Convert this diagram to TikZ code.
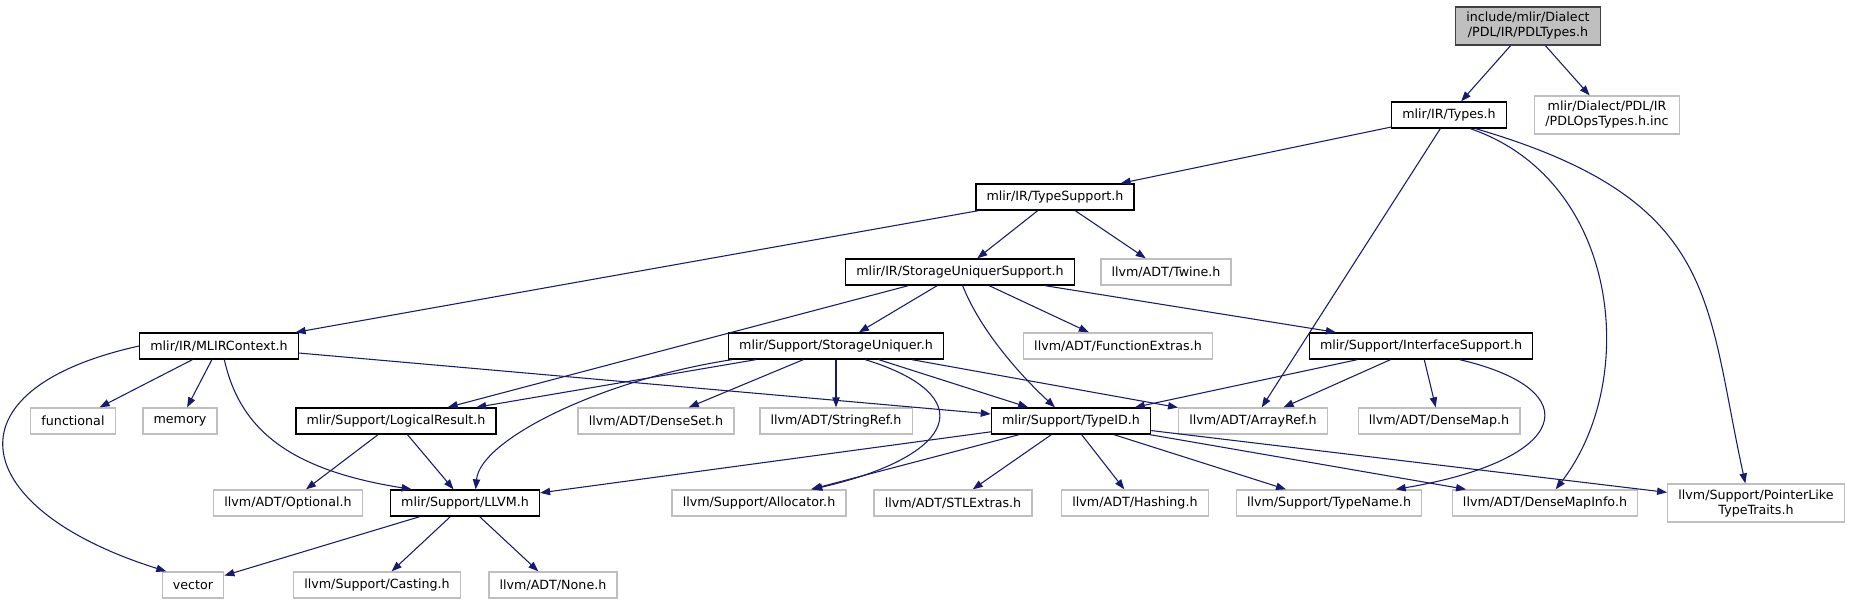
\documentclass[tikz,border=0pt]{standalone}
\usepackage{fontspec}
\setmainfont{DejaVu Sans}
\usepackage{xcolor}
\usetikzlibrary{arrows.meta}
\definecolor{edgeblue}{HTML}{191970}
\definecolor{greyline}{HTML}{BFBFBF}
\tikzstyle{file} = [rectangle, draw=black, line width=1pt, fill=white, inner xsep=8pt, inner ysep=4pt, minimum height=19.5pt, align=center, font=\fontsize{9.5}{11.25}\selectfont]
\tikzstyle{ext} = [file, draw=greyline]
\tikzstyle{root} = [file, draw=black!75, fill=greyline]
\tikzstyle{arrow} = [draw=edgeblue, line width=0.8pt, -{Triangle[length=7.5pt,width=5.5pt]}]

\begin{document}
\begin{tikzpicture}[x=0.75pt, y=-0.75pt]
    \useasboundingbox (0,0) rectangle (1852,604);
    \node (pdltypes) [root] at (1528,26) {include/mlir/Dialect\\/PDL/IR/PDLTypes.h};
    \node (types) [file] at (1449,115) {mlir/IR/Types.h};
    \node (pdlops) [ext] at (1607,115) {mlir/Dialect/PDL/IR\\/PDLOpsTypes.h.inc};
    \node (typesupport) [file] at (1055,197) {mlir/IR/TypeSupport.h};
    \node (susupport) [file] at (960,272) {mlir/IR/StorageUniquerSupport.h};
    \node (twine) [ext] at (1166,272) {llvm/ADT/Twine.h};
    \node (mlircontext) [file] at (219,346) {mlir/IR/MLIRContext.h};
    \node (uniquer) [file] at (836,346) {mlir/Support/StorageUniquer.h};
    \node (funcextras) [ext] at (1118,346) {llvm/ADT/FunctionExtras.h};
    \node (interface) [file] at (1421,346) {mlir/Support/InterfaceSupport.h};
    \node (functional) [ext] at (73,421) {functional};
    \node (memory) [ext] at (180,421) {memory};
    \node (logical) [file] at (396,421) {mlir/Support/LogicalResult.h};
    \node (denseset) [ext] at (656,421) {llvm/ADT/DenseSet.h};
    \node (stringref) [ext] at (836,421) {llvm/ADT/StringRef.h};
    \node (typeid) [file] at (1071,421) {mlir/Support/TypeID.h};
    \node (arrayref) [ext] at (1253,421) {llvm/ADT/ArrayRef.h};
    \node (densemap) [ext] at (1439,421) {llvm/ADT/DenseMap.h};
    \node (optional) [ext] at (288,503) {llvm/ADT/Optional.h};
    \node (llvm) [file] at (465,503) {mlir/Support/LLVM.h};
    \node (allocator) [ext] at (759,503) {llvm/Support/Allocator.h};
    \node (stlextras) [ext] at (953,503) {llvm/ADT/STLExtras.h};
    \node (hashing) [ext] at (1135,503) {llvm/ADT/Hashing.h};
    \node (typename) [ext] at (1329,503) {llvm/Support/TypeName.h};
    \node (densemapinfo) [ext] at (1545,503) {llvm/ADT/DenseMapInfo.h};
    \node (pointerlike) [ext] at (1756,503) {llvm/Support/PointerLike\\TypeTraits.h};
    \node (vector) [ext] at (193,585) {vector};
    \node (casting) [ext] at (377,585) {llvm/Support/Casting.h};
    \node (none) [ext] at (553,585) {llvm/ADT/None.h};
    % top
    \draw [arrow] (pdltypes) -- (pdlops);
    \draw [arrow] (pdltypes) -- (types);
    \draw [arrow] (types) -- (typesupport);
    \draw [arrow] (types) -- (arrayref);
    \draw [arrow] ([xshift=16pt]types.south) .. controls (1620,180) and (1640,380) .. ([xshift=8pt]densemapinfo.north);
    \draw [arrow] ([xshift=20pt]types.south) .. controls (1720,200) and (1705,300) .. ([xshift=-8pt]pointerlike.north);
    \draw [arrow] (typesupport) -- (mlircontext);
    \draw [arrow] (typesupport) -- (susupport);
    \draw [arrow] (typesupport) -- (twine);
    \draw [arrow] (susupport) -- (logical);
    \draw [arrow] (susupport) -- (uniquer);
    \draw [arrow] ([xshift=2pt]susupport.south) .. controls (980,330) and (1020,375) .. ([xshift=-12pt]typeid.north);
    \draw [arrow] (susupport) -- (funcextras);
    \draw [arrow] (susupport) -- (interface);
    % MLIRContext
    \draw [arrow] (mlircontext) -- (functional);
    \draw [arrow] (mlircontext) -- (memory);
    \draw [arrow] ([xshift=4pt]mlircontext.south) .. controls (240,430) and (290,470) .. ([xshift=-40pt]llvm.north);
    \draw [arrow] (mlircontext.west) .. controls (-60,390) and (-30,510) .. ([xshift=-20pt]vector.north);
    \draw [arrow] (mlircontext) -- (typeid);
    % StorageUniquer
    \draw [arrow] (uniquer) -- (logical);
    \draw [arrow] ([xshift=3pt]uniquer.south west) .. controls (600,380) and (480,440) .. ([xshift=8pt]llvm.north);
    \draw [arrow] (uniquer) -- (denseset);
    \draw [arrow] (uniquer) -- (stringref);
    \draw [arrow] (uniquer) -- (typeid);
    \draw [arrow] ([xshift=22pt]uniquer.south) .. controls (980,395) and (960,455) .. ([xshift=40pt]allocator.north);
    \draw [arrow] (uniquer) -- (arrayref);
    % InterfaceSupport
    \draw [arrow] (interface) -- (typeid);
    \draw [arrow] (interface) -- (arrayref);
    \draw [arrow] (interface) -- (densemap);
    \draw [arrow] ([xshift=29pt]interface.south) .. controls (1590,390) and (1570,460) .. ([xshift=50pt]typename.north);
    % lower rows
    \draw [arrow] (logical) -- (optional);
    \draw [arrow] (logical) -- (llvm);
    \draw [arrow] (typeid) -- (llvm);
    \draw [arrow] (typeid) -- (allocator);
    \draw [arrow] (typeid) -- (stlextras);
    \draw [arrow] (typeid) -- (hashing);
    \draw [arrow] (typeid) -- (typename);
    \draw [arrow] (typeid) -- (densemapinfo);
    \draw [arrow] (typeid) -- (pointerlike);
    \draw [arrow] (llvm) -- (vector);
    \draw [arrow] (llvm) -- (casting);
    \draw [arrow] (llvm) -- (none);
\end{tikzpicture}
\end{document}
